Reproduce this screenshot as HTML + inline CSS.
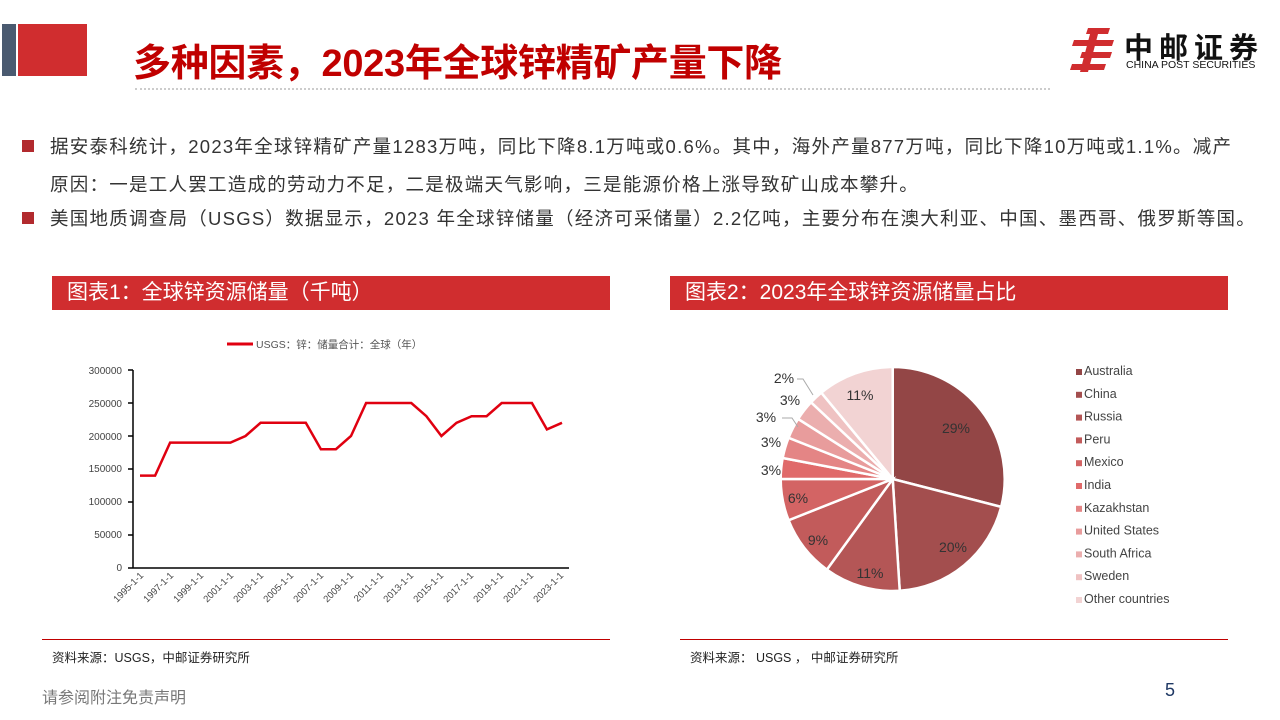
<!DOCTYPE html>
<html><head><meta charset="utf-8"><style>
*{margin:0;padding:0;box-sizing:border-box}
body{width:1280px;height:720px;position:relative;background:#fff;font-family:"Liberation Sans","Noto Sans CJK SC",sans-serif;overflow:hidden;color:#333}
.abs{position:absolute}
.bul{position:absolute;width:12px;height:12px;background:#b22a2e}
.p{position:absolute;left:50px;font-size:18.5px;letter-spacing:1.25px;color:#333;white-space:nowrap}
.bar{position:absolute;top:276px;height:34px;background:#d02d2f;color:#fff;font-size:21px;line-height:34px;padding-left:15px}
.src{position:absolute;top:647px;font-size:12.5px;color:#222}
</style></head><body>
<div class="abs" style="left:2px;top:24px;width:14px;height:52px;background:#4a5a70"></div>
<div class="abs" style="left:18px;top:24px;width:69px;height:52px;background:#d02d2f"></div>
<div class="abs" style="left:133px;top:32px;font-size:38px;font-weight:bold;color:#c00000;white-space:nowrap;letter-spacing:-0.3px">多种因素，2023年全球锌精矿产量下降</div>
<div class="abs" style="left:135px;top:88px;width:915px;border-top:2px dotted #ccc"></div>
<svg class="abs" style="left:1068px;top:26px" width="50" height="48" viewBox="0 0 50 48"><g fill="#d02d2f"><polygon points="20,2 42,2 40,8 18,8"/><polygon points="6,14 46,14 44,20 4,20"/><polygon points="14,26 44,26 42,32 12,32"/><polygon points="4,38 38,38 36,44 2,44"/><polygon points="22,8 30,8 20,46 12,46"/></g></svg>
<div class="abs" style="left:1124px;top:25px;font-size:29px;font-weight:bold;color:#111;letter-spacing:6px">中邮证券</div>
<div class="abs" style="left:1126px;top:59px;font-size:10.5px;color:#111">CHINA POST SECURITIES</div>

<div class="bul" style="left:22px;top:140px"></div>
<div class="p" style="top:133px">据安泰科统计，2023年全球锌精矿产量1283万吨，同比下降8.1万吨或0.6%。其中，海外产量877万吨，同比下降10万吨或1.1%。减产</div>
<div class="p" style="top:171px">原因：一是工人罢工造成的劳动力不足，二是极端天气影响，三是能源价格上涨导致矿山成本攀升。</div>
<div class="bul" style="left:22px;top:212px"></div>
<div class="p" style="top:205px">美国地质调查局（USGS）数据显示，2023 年全球锌储量（经济可采储量）2.2亿吨，主要分布在澳大利亚、中国、墨西哥、俄罗斯等国。</div>

<div class="bar" style="left:52px;width:558px">图表1：全球锌资源储量（千吨）</div>
<div class="bar" style="left:670px;width:558px">图表2：2023年全球锌资源储量占比</div>

<svg class="abs" style="left:0;top:320px" width="640" height="320" font-family="Liberation Sans,Noto Sans CJK SC,sans-serif">
<line x1="227" y1="24" x2="253" y2="24" stroke="#e00010" stroke-width="3"/>
<text x="256" y="28" font-size="10.5" fill="#555">USGS：锌：储量合计：全球（年）</text>
<g font-size="10" fill="#444" text-anchor="end">
<text x="122" y="54">300000</text><text x="122" y="87">250000</text><text x="122" y="120">200000</text><text x="122" y="152">150000</text><text x="122" y="185">100000</text><text x="122" y="218">50000</text><text x="122" y="251">0</text></g>
<g stroke="#000" stroke-width="1.5"><line x1="133" y1="50" x2="133" y2="248"/><line x1="133" y1="248" x2="569" y2="248"/>
<line x1="128" y1="50" x2="133" y2="50"/><line x1="128" y1="83" x2="133" y2="83"/><line x1="128" y1="116" x2="133" y2="116"/><line x1="128" y1="149" x2="133" y2="149"/><line x1="128" y1="182" x2="133" y2="182"/><line x1="128" y1="215" x2="133" y2="215"/><line x1="128" y1="248" x2="133" y2="248"/></g>
<polyline fill="none" stroke="#e00010" stroke-width="2.5" points="140,155.6 155.1,155.6 170.1,122.6 185.2,122.6 200.3,122.6 215.4,122.6 230.4,122.6 245.5,116 260.6,102.8 275.6,102.8 290.7,102.8 305.8,102.8 320.9,129.2 335.9,129.2 351,116 366.1,83 381.1,83 396.2,83 411.3,83 426.4,96.2 441.4,116 456.5,102.8 471.6,96.2 486.6,96.2 501.7,83 516.8,83 531.9,83 546.9,109.4 562,102.8"/>
<g font-size="9.5" fill="#444" text-anchor="end">
<text transform="translate(144,256) rotate(-45)">1995-1-1</text>
<text transform="translate(174,256) rotate(-45)">1997-1-1</text>
<text transform="translate(204,256) rotate(-45)">1999-1-1</text>
<text transform="translate(234,256) rotate(-45)">2001-1-1</text>
<text transform="translate(264,256) rotate(-45)">2003-1-1</text>
<text transform="translate(294,256) rotate(-45)">2005-1-1</text>
<text transform="translate(324,256) rotate(-45)">2007-1-1</text>
<text transform="translate(354,256) rotate(-45)">2009-1-1</text>
<text transform="translate(384,256) rotate(-45)">2011-1-1</text>
<text transform="translate(414,256) rotate(-45)">2013-1-1</text>
<text transform="translate(444,256) rotate(-45)">2015-1-1</text>
<text transform="translate(474,256) rotate(-45)">2017-1-1</text>
<text transform="translate(504,256) rotate(-45)">2019-1-1</text>
<text transform="translate(534,256) rotate(-45)">2021-1-1</text>
<text transform="translate(564,256) rotate(-45)">2023-1-1</text>
</g></svg>

<svg class="abs" style="left:700px;top:340px" width="520" height="290" font-family="Liberation Sans,sans-serif" id="pie"></svg>
<script>
(function(){
var s=document.getElementById('pie'),cx=192.7,cy=139,r=112;
var v=[29,20,11,9,6,3,3,3,3,2,11];
var c=['#934646','#a34e4e','#b45656','#c25b5b','#d36464','#e06a6a','#e48585','#e89c9c','#ebaeae','#efc2c2','#f2d3d3'];
var n=['Australia','China','Russia','Peru','Mexico','India','Kazakhstan','United States','South Africa','Sweden','Other countries'];
var a=0,h='';
var lab=[[256,93],[253,212],[170,238],[118,205],[98,163],null,null,null,null,null,[160,60]];
var out=[[71,135],[71,107],[66,82],[90,65],[84,43]];
for(var i=0;i<v.length;i++){
 var a0=a*3.6*Math.PI/180;a+=v[i];var a1=a*3.6*Math.PI/180;
 var x0=cx+r*Math.sin(a0),y0=cy-r*Math.cos(a0),x1=cx+r*Math.sin(a1),y1=cy-r*Math.cos(a1);
 h+='<path d="M'+cx+','+cy+' L'+x0+','+y0+' A'+r+','+r+' 0 '+(v[i]>50?1:0)+',1 '+x1+','+y1+' Z" fill="'+c[i]+'" stroke="#fff" stroke-width="2.5"/>';
}
for(var i=0;i<v.length;i++){ if(lab[i]) h+='<text x="'+lab[i][0]+'" y="'+lab[i][1]+'" font-size="14" fill="#333" text-anchor="middle">'+v[i]+'%</text>';}
for(var k=0;k<5;k++){h+='<text x="'+out[k][0]+'" y="'+out[k][1]+'" font-size="14" fill="#333" text-anchor="middle">'+v[5+k]+'%</text>';}
h+='<polyline points="97,39 103,39 113,55" fill="none" stroke="#aaa"/><polyline points="82,78 92,78 98,87" fill="none" stroke="#aaa"/>';
for(var i=0;i<n.length;i++){var y=34+i*22.8;h+='<rect x="376" y="'+(y-5)+'" width="6" height="6" fill="'+c[i]+'"/><text x="384" y="'+(y+1)+'" font-size="12.5" fill="#444">'+n[i]+'</text>';}
s.innerHTML=h;})();
</script>

<div class="abs" style="left:42px;top:639px;width:568px;border-top:1px solid #c00000"></div>
<div class="abs" style="left:680px;top:639px;width:548px;border-top:1px solid #c00000"></div>
<div class="src" style="left:52px">资料来源：USGS，中邮证券研究所</div>
<div class="src" style="left:690px">资料来源： USGS ， 中邮证券研究所</div>
<div class="abs" style="left:42px;top:684px;font-size:16px;color:#777">请参阅附注免责声明</div>
<div class="abs" style="left:1165px;top:680px;font-size:18px;color:#1f3864">5</div>
</body></html>
